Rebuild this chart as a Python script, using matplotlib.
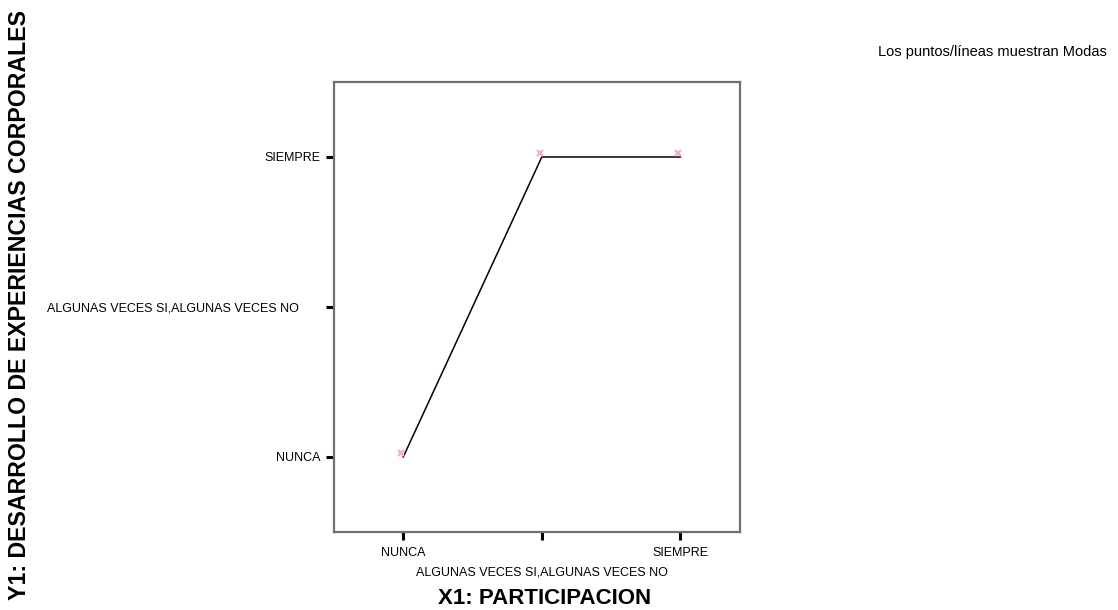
import matplotlib.pyplot as plt
from matplotlib.transforms import ScaledTranslation

plt.rcParams["font.family"] = ["Liberation Sans", "DejaVu Sans"]

categories = ["NUNCA", "ALGUNAS VECES SI,ALGUNAS VECES NO", "SIEMPRE"]
x_mode = [0, 1, 2]
y_mode = [0, 2, 2]

fig = plt.figure(figsize=(11.18, 6.10), dpi=100)
ax = fig.add_axes([0.2987, 0.1279, 0.3632, 0.7377])

ax.plot(x_mode, y_mode, color="black", lw=1.1, zorder=2)
off = ax.transData + ScaledTranslation(-1.5 / 72, 3 / 72, fig.dpi_scale_trans)
ax.plot(x_mode, y_mode, "x", color="#f7b0b8", ms=4, mew=1.6, transform=off, zorder=3)

ax.set_xlim(-0.5, 2.43)
ax.set_ylim(-0.5, 2.5)
ax.set_xticks(range(len(categories)))
ax.set_xticklabels(categories, fontsize=9)
ax.set_yticks(range(len(categories)))
ax.set_yticklabels([categories[0], categories[1] + "      ", categories[2]], fontsize=9)
ax.tick_params(direction="out", length=6, width=2.2, color="black", pad=4)
ax.tick_params(axis="x", pad=5)
# staggered middle label, like the original
ax.xaxis.get_major_ticks()[1].set_pad(18.5)

for s in ax.spines.values():
    s.set_color("#707070")
    s.set_linewidth(1.6)

fig.text(0.017, 0.5, "Y1: DESARROLLO DE EXPERIENCIAS CORPORALES", rotation=90,
         ha="center", va="center", fontsize=16.7, fontweight="bold")
fig.text(545 / 1118, 1 - 598 / 610, "X1: PARTICIPACION", ha="center", va="center",
         fontsize=16, fontweight="bold")
fig.text(878 / 1118, 1 - 52 / 610, "Los puntos/líneas muestran Modas", ha="left",
         va="center", fontsize=10.5)

fig.savefig("out.png", dpi=100)
